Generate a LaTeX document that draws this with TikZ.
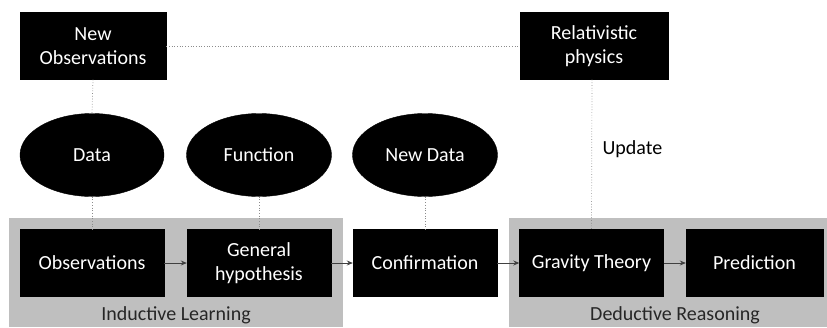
\documentclass[tikz,border=0pt]{standalone}
\usepackage{fontspec}
\setmainfont{Carlito}
\usetikzlibrary{shapes.geometric,arrows.meta}
\tikzset{
  blackbox/.style={draw=black,fill=black,text=white,minimum width=144pt,minimum height=67pt,inner sep=0pt,align=center,font=\fontsize{20}{24}\selectfont},
  blackoval/.style={ellipse,draw=black,fill=black,text=white,minimum width=144pt,minimum height=83pt,inner sep=0pt,font=\fontsize{20}{24}\selectfont},
  grayzone/.style={fill=black!25,draw=none},
  zonelabel/.style={font=\fontsize{20}{24}\selectfont,text=black!85},
  dotline/.style={draw=black!45,line width=0.7pt,dotted},
  flow/.style={draw=black!75,line width=0.8pt,-{Stealth[length=6pt,width=5pt]}}
}
\begin{document}
\begin{tikzpicture}[x=1pt,y=-1pt]
\useasboundingbox (0,0) rectangle (827,327);
% gray zones
\fill[grayzone] (9,218) rectangle (343,327);
\fill[grayzone] (509,218) rectangle (827,327);
\node[zonelabel] (indlab) at (176,315) {Inductive Learning};
\node[zonelabel] (deductlab) at (675,315) {Deductive Reasoning};
% top boxes
\node[blackbox,minimum width=146pt] (newobs) at (93,46) {New\\Observations};
\node[blackbox,minimum width=148pt] (rel) at (594,46) {Relativistic\\physics};
% ellipses
\node[blackoval] (data) at (92,155) {Data};
\node[blackoval,minimum width=145pt] (func) at (259,155) {Function};
\node[blackoval,minimum width=145pt] (newdata) at (425,155) {New Data};
\node[font=\fontsize{20}{24}\selectfont,anchor=west] (upd) at (599,149) {Update};
% bottom boxes
\node[blackbox] (obs) at (92,263) {Observations};
\node[blackbox] (gen) at (259,263) {General\\hypothesis};
\node[blackbox] (conf) at (425,263) {Confirmation};
\node[blackbox] (grav) at (591.5,263) {Gravity Theory};
\node[blackbox,minimum width=137pt] (pred) at (754.5,263) {Prediction};
% dotted connectors
\draw[dotline] (newobs.east) -- (rel.west);
\draw[dotline] (newobs.south) -- (data.north);
\draw[dotline] (data.south) -- (obs.north);
\draw[dotline] (func.south) -- (gen.north);
\draw[dotline] (newdata.south) -- (conf.north);
\draw[dotline] (rel.south) ++(-2,0) coordinate (relb) (relb) -- (grav.north);
% flow arrows
\draw[flow] (obs) -- (gen);
\draw[flow] (gen) -- (conf);
\draw[flow] (conf) -- (grav);
\draw[flow] (grav) -- (pred);
\end{tikzpicture}
\end{document}
